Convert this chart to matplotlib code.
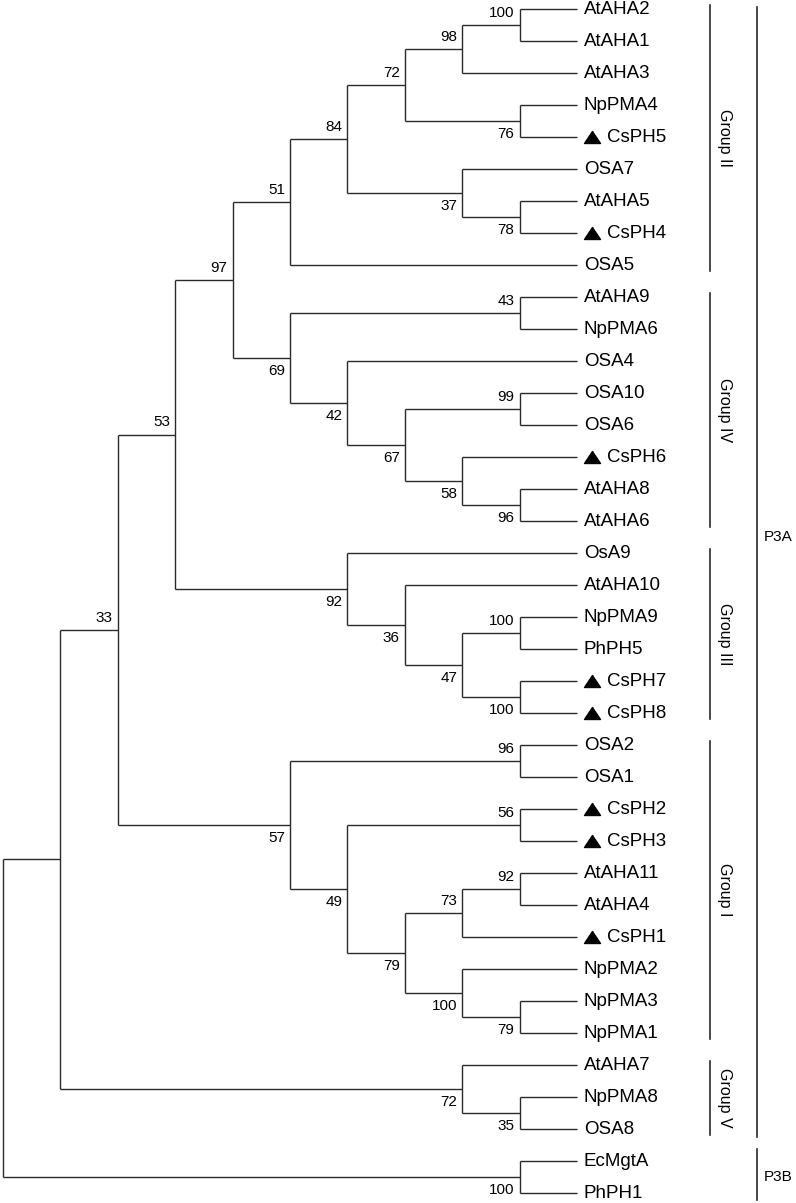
import matplotlib
matplotlib.use('Agg')
import matplotlib.pyplot as plt
import matplotlib.transforms as mtransforms
from matplotlib.path import Path

plt.rcParams['font.family'] = ['Liberation Sans', 'DejaVu Sans']

# leaves, top to bottom
leaves = ['AtAHA2', 'AtAHA1', 'AtAHA3', 'NpPMA4', 'CsPH5', 'OSA7', 'AtAHA5', 'CsPH4',
          'OSA5', 'AtAHA9', 'NpPMA6', 'OSA4', 'OSA10', 'OSA6', 'CsPH6', 'AtAHA8',
          'AtAHA6', 'OsA9', 'AtAHA10', 'NpPMA9', 'PhPH5', 'CsPH7', 'CsPH8', 'OSA2',
          'OSA1', 'CsPH2', 'CsPH3', 'AtAHA11', 'AtAHA4', 'CsPH1', 'NpPMA2', 'NpPMA3',
          'NpPMA1', 'AtAHA7', 'NpPMA8', 'OSA8', 'EcMgtA', 'PhPH1']
marked = ['CsPH1', 'CsPH2', 'CsPH3', 'CsPH4', 'CsPH5', 'CsPH6', 'CsPH7', 'CsPH8']

# topology: (bootstrap, upper child, lower child)
group2 = (51, (84, (72, (98, (100, 'AtAHA2', 'AtAHA1'), 'AtAHA3'), (76, 'NpPMA4', 'CsPH5')),
                   (37, 'OSA7', (78, 'AtAHA5', 'CsPH4'))),
          'OSA5')
group4 = (69, (43, 'AtAHA9', 'NpPMA6'),
          (42, 'OSA4', (67, (99, 'OSA10', 'OSA6'), (58, 'CsPH6', (96, 'AtAHA8', 'AtAHA6')))))
group3 = (92, 'OsA9', (36, 'AtAHA10', (47, (100, 'NpPMA9', 'PhPH5'), (100, 'CsPH7', 'CsPH8'))))
group1 = (57, (96, 'OSA2', 'OSA1'),
          (49, (56, 'CsPH2', 'CsPH3'),
           (79, (73, (92, 'AtAHA11', 'AtAHA4'), 'CsPH1'),
            (100, 'NpPMA2', (79, 'NpPMA3', 'NpPMA1')))))
group5 = (72, 'AtAHA7', (35, 'NpPMA8', 'OSA8'))
p3b = (100, 'EcMgtA', 'PhPH1')
tree = (None, (None, (33, (53, (97, group2, group4), group3), group1), group5), p3b)

group_names = ['Group II', 'Group IV', 'Group III', 'Group I', 'Group V']
group_first = ['AtAHA2', 'AtAHA9', 'OsA9', 'OSA2', 'AtAHA7']
group_last = ['OSA5', 'AtAHA6', 'CsPH8', 'NpPMA1', 'OSA8']
clade_names = ['P3A', 'P3B']
clade_first = ['AtAHA2', 'EcMgtA']
clade_last = ['OSA8', 'PhPH1']

W, H = 796, 1203
STEP = 57.4      # px per level
ROW = 32.0       # px per leaf
X0, Y0 = 3.0, 9.0
PT = 0.72        # points per px at 100 dpi
LC = '#2a2a2a'


def place(node):
    if isinstance(node, str):
        return {'name': node, 'y': leaves.index(node), 'h': 0, 'kids': [], 'boot': None}
    boot, a, b = node
    ka, kb = place(a), place(b)
    return {'name': None, 'y': (ka['y'] + kb['y']) / 2.0,
            'h': max(ka['h'], kb['h']) + 1, 'kids': [ka, kb], 'boot': boot}


root = place(tree)
DEPTH = root['h']

fig = plt.figure(figsize=(W / 100, H / 100), dpi=100)
ax = fig.add_axes([0, 0, 1, 1])
ax.set_xlim(-X0 / STEP, (W - X0) / STEP)
ax.set_ylim((H - Y0) / ROW, -Y0 / ROW)
ax.axis('off')


def draw(n):
    x = DEPTH - n['h']
    for i, k in enumerate(n['kids']):
        kx = DEPTH - k['h']
        ax.plot([x, kx], [k['y'], k['y']], color=LC, lw=1.0, solid_capstyle='butt')
        if k['boot'] is not None:
            dy = 12 if i == 0 else -13
            ax.annotate(str(k['boot']), (kx, k['y']), xytext=(-5 * PT, dy * PT),
                        textcoords='offset points', ha='right', va='center', fontsize=11)
        draw(k)
    if n['kids']:
        ax.plot([x, x], [n['kids'][0]['y'], n['kids'][1]['y']], color=LC, lw=1.0,
                solid_capstyle='butt')


draw(root)

# leaf labels and markers
tri = Path([(-1, -0.75), (1, -0.75), (0, 0.75), (-1, -0.75)],
           [Path.MOVETO, Path.LINETO, Path.LINETO, Path.CLOSEPOLY])
mark_tr = mtransforms.offset_copy(ax.transData, fig=fig, x=15 * PT, y=0, units='points')
for i, name in enumerate(leaves):
    off = 7
    if name in marked:
        ax.plot([DEPTH], [i], marker=tri, ms=11.5, color='black', transform=mark_tr)
        off = 30
    ax.annotate(name, (DEPTH, i), xytext=(off * PT, 0), textcoords='offset points',
                ha='left', va='center', fontsize=13.5)

# group brackets
gx = DEPTH + (710 - 577) / STEP
for name, a, b in zip(group_names, group_first, group_last):
    y1 = leaves.index(a) - 4 / ROW
    y2 = leaves.index(b) + 6 / ROW
    ax.plot([gx, gx], [y1, y2], color=LC, lw=1.2)
    ax.text(gx + 15 / STEP, (y1 + y2) / 2, name, rotation=-90, ha='center', va='center',
            fontsize=11.5)

cx = DEPTH + (757 - 577) / STEP
cy1 = [leaves.index(clade_first[0]) - 2 / ROW, leaves.index(clade_first[1]) - 12 / ROW]
cy2 = [leaves.index(clade_last[0]) + 8 / ROW, leaves.index(clade_last[1]) + 7 / ROW]
label_y = [16.5, (leaves.index(clade_first[1]) + leaves.index(clade_last[1])) / 2]
for name, y1, y2, ly in zip(clade_names, cy1, cy2, label_y):
    ax.plot([cx, cx], [y1, y2], color=LC, lw=1.2)
    ax.text(cx + 7 / STEP, ly, name, ha='left', va='center', fontsize=11)

fig.savefig('out.png', dpi=100)
